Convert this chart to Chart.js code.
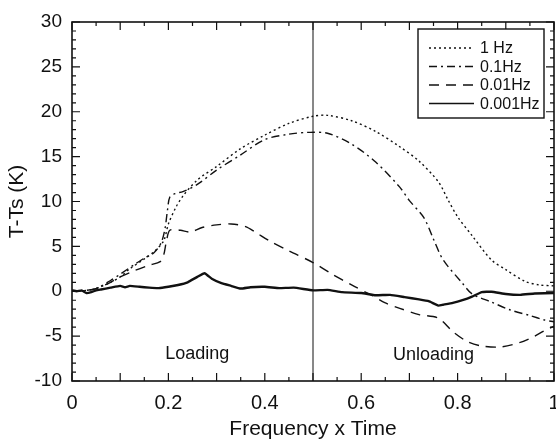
<!DOCTYPE html>
<html>
<head>
<meta charset="utf-8">
<script src="https://cdn.jsdelivr.net/npm/chart.js@4/dist/chart.umd.min.js"></script>
<style>
html,body{margin:0;padding:0;background:#fff;}
#wrap{width:556px;height:443px;position:relative;}
</style>
</head>
<body>
<div id="wrap"><canvas id="c" width="556" height="443"></canvas></div>
<script>
// ---- data ----
const seriesNames = ["1 Hz", "0.1Hz", "0.01Hz", "0.001Hz"];

const hz1X = [0, 0.03, 0.05, 0.08, 0.1, 0.12, 0.15, 0.17, 0.19, 0.2, 0.215, 0.23, 0.26, 0.3, 0.35, 0.4, 0.45, 0.5, 0.53, 0.58, 0.63, 0.68, 0.72, 0.76, 0.78, 0.8, 0.83, 0.87, 0.9, 0.94, 0.97, 1.0];
const hz1Y = [0, 0.1, 0.3, 1.0, 1.6, 2.5, 3.6, 4.4, 5.6, 7.5, 9.3, 10.6, 12.4, 13.9, 15.9, 17.4, 18.7, 19.5, 19.6, 19.0, 17.8, 16.1, 14.5, 12.2, 10.2, 8.3, 6.2, 3.5, 2.4, 1.1, 0.7, 0.6];

const hz01X = [0, 0.03, 0.05, 0.08, 0.1, 0.13, 0.15, 0.17, 0.185, 0.193, 0.198, 0.203, 0.215, 0.23, 0.26, 0.3, 0.35, 0.4, 0.45, 0.49, 0.53, 0.58, 0.63, 0.68, 0.7, 0.73, 0.75, 0.77, 0.81, 0.83, 0.87, 0.91, 0.95, 0.98, 1.0];
const hz01Y = [0, 0.1, 0.3, 1.2, 1.9, 3.0, 3.7, 4.3, 5.4, 7.0, 9.0, 10.5, 10.9, 11.1, 11.9, 13.5, 15.2, 16.9, 17.5, 17.7, 17.6, 16.4, 14.4, 11.6, 10.1, 8.2, 5.8, 3.5, 0.9, -0.3, -1.2, -2.1, -2.7, -3.2, -3.4];

const hz001X = [0, 0.03, 0.05, 0.08, 0.1, 0.13, 0.16, 0.183, 0.19, 0.196, 0.203, 0.225, 0.245, 0.27, 0.3, 0.33, 0.36, 0.38, 0.41, 0.45, 0.5, 0.54, 0.58, 0.62, 0.65, 0.68, 0.72, 0.76, 0.79, 0.82, 0.85, 0.89, 0.93, 0.96, 0.98, 1.0];
const hz001Y = [0, 0.1, 0.3, 1.0, 1.6, 2.3, 2.9, 3.3, 4.0, 5.6, 6.8, 6.8, 6.6, 7.1, 7.4, 7.5, 7.2, 6.6, 5.6, 4.5, 3.2, 1.9, 0.7, -0.4, -1.3, -1.9, -2.6, -3.0, -4.5, -5.6, -6.1, -6.2, -5.7, -5.0, -4.4, -3.9];

const hz0001X = [0, 0.01, 0.02, 0.03, 0.04, 0.05, 0.06, 0.08, 0.1, 0.11, 0.12, 0.14, 0.16, 0.18, 0.2, 0.22, 0.24, 0.26, 0.275, 0.29, 0.31, 0.33, 0.35, 0.37, 0.4, 0.43, 0.46, 0.5, 0.53, 0.56, 0.6, 0.63, 0.66, 0.69, 0.72, 0.74, 0.76, 0.77, 0.79, 0.81, 0.83, 0.85, 0.87, 0.9, 0.93, 0.96, 1.0];
const hz0001Y = [0.1, 0.0, 0.1, -0.2, -0.1, 0.1, 0.2, 0.4, 0.6, 0.45, 0.6, 0.5, 0.4, 0.35, 0.5, 0.7, 1.0, 1.6, 2.0, 1.4, 0.9, 0.6, 0.3, 0.45, 0.5, 0.35, 0.4, 0.1, 0.15, -0.1, -0.2, -0.45, -0.4, -0.65, -0.9, -1.1, -1.6, -1.5, -1.3, -1.0, -0.6, -0.1, -0.05, -0.3, -0.4, -0.25, -0.2];

const dividerX = [0.5, 0.5];
const dividerY = [-10, 30];

const xTickLabels = ["0", "0.2", "0.4", "0.6", "0.8", "1"];
const yTickLabels = ["-10", "-5", "0", "5", "10", "15", "20", "25", "30"];
const phaseLabels = ["Loading", "Unloading"];
const phaseLabelX = [0.26, 0.75];
const phaseLabelY = [-7, -7.1];

const pts = (xs, ys) => xs.map((x, i) => ({x: x, y: ys[i]}));
const INK = '#111';
const FONT = '"Liberation Sans", Arial, sans-serif';

const seriesStyles = [
  {dash: [2, 3], width: 1.4, tension: 0.3},
  {dash: [8, 4, 2, 4], width: 1.4, tension: 0.3},
  {dash: [10, 7], width: 1.4, tension: 0.3},
  {dash: [], width: 2.4, tension: 0.1}
];

const datasets = [
  {label: seriesNames[0], data: pts(hz1X, hz1Y)},
  {label: seriesNames[1], data: pts(hz01X, hz01Y)},
  {label: seriesNames[2], data: pts(hz001X, hz001Y)},
  {label: seriesNames[3], data: pts(hz0001X, hz0001Y)}
].map((d, i) => Object.assign(d, {
  borderColor: INK, borderWidth: seriesStyles[i].width, borderDash: seriesStyles[i].dash,
  pointRadius: 0, tension: seriesStyles[i].tension, fill: false
}));
datasets.push({label: 'divider', data: pts(dividerX, dividerY), borderColor: INK, borderWidth: 1, pointRadius: 0, fill: false});

const framePlugin = {
  id: 'frame',
  afterDatasetsDraw(chart) {
    const {ctx, chartArea: a, scales: {x, y}} = chart;
    ctx.save();
    ctx.strokeStyle = INK;
    ctx.lineWidth = 1.6;
    ctx.strokeRect(a.left, a.top, a.right - a.left, a.bottom - a.top);
    ctx.lineWidth = 1.2;
    ctx.beginPath();
    for (let i = 0; i <= 20; i++) {
      const v = i * 0.05;
      const px = x.getPixelForValue(v);
      const len = (i % 2 === 0) ? 8 : 4;
      ctx.moveTo(px, a.bottom); ctx.lineTo(px, a.bottom - len);
      ctx.moveTo(px, a.top); ctx.lineTo(px, a.top + len);
    }
    for (let v = -10; v <= 30; v++) {
      const py = y.getPixelForValue(v);
      const len = (v % 5 === 0) ? 8 : 4;
      ctx.moveTo(a.left, py); ctx.lineTo(a.left + len, py);
      ctx.moveTo(a.right, py); ctx.lineTo(a.right - len, py);
    }
    ctx.stroke();

    // phase labels
    ctx.fillStyle = INK;
    ctx.font = '18px ' + FONT;
    ctx.textAlign = 'center';
    ctx.textBaseline = 'middle';
    phaseLabels.forEach((t, i) => ctx.fillText(t, x.getPixelForValue(phaseLabelX[i]), y.getPixelForValue(phaseLabelY[i])));

    // legend box
    const bx = 418, by = 29, bw = 126, bh = 89;
    ctx.fillStyle = '#fff';
    ctx.fillRect(bx, by, bw, bh);
    ctx.lineWidth = 1.4;
    ctx.strokeRect(bx, by, bw, bh);
    ctx.font = '16px ' + FONT;
    ctx.textAlign = 'left';
    ctx.fillStyle = INK;
    seriesNames.forEach((n, i) => {
      const ry = by + 19 + i * 18.5;
      ctx.beginPath();
      ctx.setLineDash(seriesStyles[i].dash);
      ctx.lineWidth = i === 3 ? 1.6 : 1.4;
      ctx.moveTo(bx + 11, ry); ctx.lineTo(bx + 56, ry);
      ctx.stroke();
      ctx.setLineDash([]);
      ctx.fillText(n, bx + 62, ry + 1);
    });
    ctx.restore();
  }
};

new Chart(document.getElementById('c'), {
  type: 'line',
  data: {datasets},
  options: {
    responsive: false,
    animation: false,
    devicePixelRatio: 1,
    layout: {padding: {top: 22, right: 2, left: 0, bottom: 0}},
    plugins: {legend: {display: false}, tooltip: {enabled: false}},
    scales: {
      x: {
        type: 'linear', min: 0, max: 1,
        afterFit(s) { s.height = 62; s.paddingLeft = 0; s.paddingRight = 0; },
        afterBuildTicks(s) { s.ticks = xTickLabels.map(t => ({value: parseFloat(t)})); },
        grid: {display: false, drawTicks: false},
        border: {display: false},
        ticks: {
          padding: 10, color: INK, maxRotation: 0, autoSkip: false,
          font: {family: FONT, size: 20},
          callback: (v, i) => xTickLabels[i]
        },
        title: {display: true, text: 'Frequency x Time', color: INK, padding: {top: 0, bottom: 1},
          font: {family: FONT, size: 21}}
      },
      y: {
        type: 'linear', min: -10, max: 30,
        afterFit(s) { s.width = 72; s.paddingTop = 0; s.paddingBottom = 0; },
        afterBuildTicks(s) { s.ticks = yTickLabels.map(t => ({value: parseFloat(t)})); },
        grid: {display: false, drawTicks: false},
        border: {display: false},
        ticks: {
          padding: 10, color: INK, autoSkip: false,
          font: {family: FONT, size: 19},
          callback: (v, i) => yTickLabels[i]
        },
        title: {display: true, text: 'T-Ts (K)', color: INK, padding: {top: 5, bottom: 0},
          font: {family: FONT, size: 21}}
      }
    }
  },
  plugins: [framePlugin]
});
</script>
</body>
</html>
